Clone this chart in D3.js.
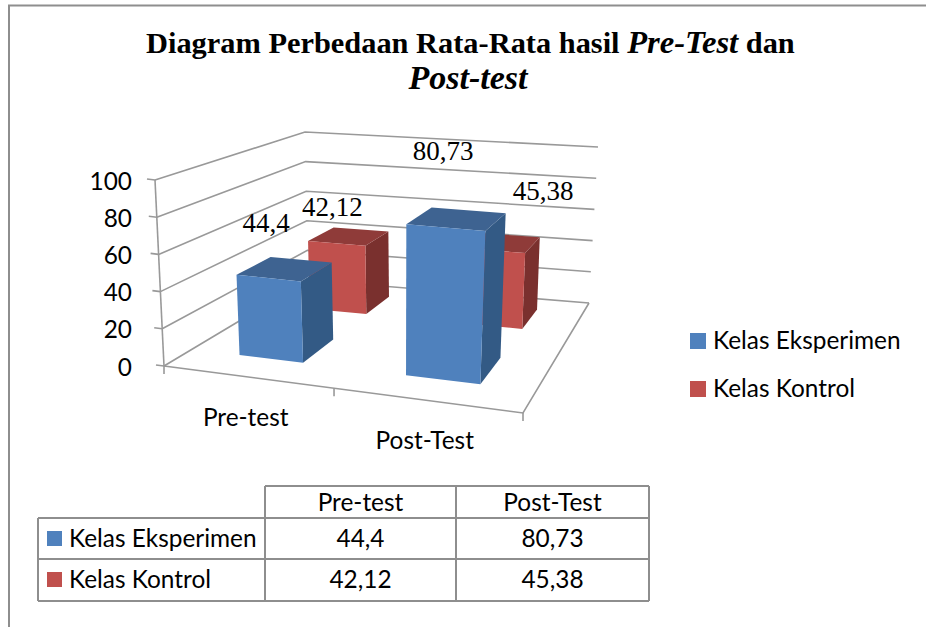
<!DOCTYPE html>
<html>
<head>
<meta charset="utf-8">
<script src="https://cdn.jsdelivr.net/npm/d3@7"></script>
<style>
    html, body { margin: 0; padding: 0; background: #fff; }
    svg { display: block; }
    text { fill: #000; }
</style>
</head>
<body>
<svg id="chart" width="926" height="627"></svg>
<script>
var categories = ["Pre-test", "Post-Test"];
var seriesNames = ["Kelas Eksperimen", "Kelas Kontrol"];
var eksperimenValues = [44.4, 80.73];
var kontrolValues = [42.12, 45.38];
var valueLabelsEksperimen = ["44,4", "80,73"];
var valueLabelsKontrol = ["42,12", "45,38"];
var yTicks = [0, 20, 40, 60, 80, 100];

var labelFont = "Lato, sans-serif";
var labelSize = "24.4px";
var serifFont = "'Liberation Serif', serif";

// colours: front, side, top of each box
var blue = { front: "#4F81BD", side: "#335A85", top: "#3E6391" };
var red = { front: "#C0504D", side: "#7A302E", top: "#8F3B39" };
var gridColor = "#999999";

// corners of the 3d box on screen: front-left, front-right, back-right, back-left
var floorCorners = [[164, 366], [523, 413], [589, 303], [308, 280]];
var topCorners = [[155, 180], [535, 213], [598, 147], [305, 132]];

// maps the unit square onto a quad, so depth gets foreshortened
function quadMap(q) {
    var dx1 = q[1][0] - q[2][0], dx2 = q[3][0] - q[2][0], sx = q[0][0] - q[1][0] + q[2][0] - q[3][0];
    var dy1 = q[1][1] - q[2][1], dy2 = q[3][1] - q[2][1], sy = q[0][1] - q[1][1] + q[2][1] - q[3][1];
    var den = dx1 * dy2 - dx2 * dy1;
    var g = (sx * dy2 - dx2 * sy) / den;
    var h = (dx1 * sy - sx * dy1) / den;
    var a = q[1][0] - q[0][0] + g * q[1][0], b = q[3][0] - q[0][0] + h * q[3][0];
    var d = q[1][1] - q[0][1] + g * q[1][1], e = q[3][1] - q[0][1] + h * q[3][1];
    return function (u, v) {
        var w = g * u + h * v + 1;
        return [(a * u + b * v + q[0][0]) / w, (d * u + e * v + q[0][1]) / w];
    };
}
var floorMap = quadMap(floorCorners);
var topMap = quadMap(topCorners);

var x = d3.scaleBand().domain(categories).range([0.008, 1.008]).paddingInner(0.6).paddingOuter(0.3);
var z = d3.scaleBand().domain(seriesNames).range([0.02, 1.01]).paddingInner(0.56).paddingOuter(0.27);
var y = d3.scaleLinear().domain([0, 100]).range([0, 1]);

// u across, v into the page, val is the chart value
function project(u, v, val) {
    var f = floorMap(u, v), t = topMap(u, v), k = y(val);
    return [f[0] + (t[0] - f[0]) * k, f[1] + (t[1] - f[1]) * k];
}

const svg = d3.select("#chart");
var line = d3.line();

// outer frame
svg.append("path").attr("d", "M9,627V5.5H926").attr("fill", "none").attr("stroke", "#8E8E8E").attr("stroke-width", 2);

// title
var title = svg.append("g").style("font-family", serifFont).style("font-size", "30.4px").style("font-weight", "bold");
var t1 = title.append("text").attr("x", 146).attr("y", 53);
t1.append("tspan").text("Diagram Perbedaan Rata-Rata hasil ");
t1.append("tspan").style("font-style", "italic").style("font-size", "32.6px").text("Pre-Test");
t1.append("tspan").text(" dan");
title.append("text").attr("x", 468).attr("y", 89).attr("text-anchor", "middle").style("font-style", "italic").style("font-size", "34px").text("Post-test");

// walls and floor
var grid = svg.append("g").attr("fill", "none").attr("stroke", gridColor).attr("stroke-width", 1.6);
yTicks.forEach(function (t) {
    grid.append("path").attr("d", line([project(0, 0, t), project(0, 1, t), project(1, 1, t)]));
    var p = project(0, 0, t);
    grid.append("path").attr("d", line([[p[0] - 8, p[1] - 1], p]));
});
grid.append("path").attr("d", line([project(0, 0, 0), project(0, 0, 100)]));
grid.append("path").attr("d", line([project(0, 0, 0), project(1, 0, 0), project(1, 1, 0)]));
// category ticks, the middle one sits a bit right of u = 0.5 in the original
[0, 0.515, 1].forEach(function (u) {
    var p = project(u, 0, 0);
    grid.append("path").attr("d", line([p, [p[0], p[1] + 8]]));
});

// y tick labels
svg.append("g").selectAll("text").data(yTicks).enter().append("text")
    .attr("x", 132)
    .attr("y", function (d) { return project(0, 0, d)[1] + 9.5; })
    .attr("text-anchor", "end")
    .style("font-family", labelFont).style("font-size", labelSize)
    .text(function (d) { return d; });

// category labels
svg.append("g").selectAll("text").data(categories).enter().append("text")
    .attr("x", function (d) { return project(x(d) + x.bandwidth() / 2, 0, 0)[0]; })
    .attr("y", function (d) { return project(x(d) + x.bandwidth() / 2, 0, 0)[1] + 49; })
    .attr("text-anchor", "middle")
    .style("font-family", labelFont).style("font-size", labelSize)
    .text(function (d) { return d; });

// one box of the 3d bar chart
function drawBox(cat, name, val, col) {
    var u0 = x(cat), u1 = u0 + x.bandwidth();
    var v0 = z(name), v1 = v0 + z.bandwidth();
    var g = svg.append("g");
    function face(pts, fill) {
        g.append("path").attr("d", line(pts) + "Z").attr("fill", fill);
    }
    face([project(u1, v0, 0), project(u1, v1, 0), project(u1, v1, val), project(u1, v0, val)], col.side);
    face([project(u0, v0, val), project(u1, v0, val), project(u1, v1, val), project(u0, v1, val)], col.top);
    face([project(u0, v0, 0), project(u1, v0, 0), project(u1, v0, val), project(u0, v0, val)], col.front);
}

// back row first so the front row covers it
kontrolValues.forEach(function (d, i) { drawBox(categories[i], seriesNames[1], d, red); });
eksperimenValues.forEach(function (d, i) { drawBox(categories[i], seriesNames[0], d, blue); });

// value labels, placed by hand over the bars like the original
function valueLabel(cat, name, val, txt, dx, dy) {
    var p = project(x(cat) + x.bandwidth() / 2, z(name), val);
    svg.append("text")
        .attr("x", p[0] + dx).attr("y", p[1] + dy)
        .attr("text-anchor", "middle")
        .style("font-family", serifFont).style("font-size", "27px")
        .text(txt);
}
var eksOffsets = [[-2, -46], [-2, -68]];
var konOffsets = [[-4, -27], [52, -50]];
eksperimenValues.forEach(function (d, i) { valueLabel(categories[i], seriesNames[0], d, valueLabelsEksperimen[i], eksOffsets[i][0], eksOffsets[i][1]); });
kontrolValues.forEach(function (d, i) { valueLabel(categories[i], seriesNames[1], d, valueLabelsKontrol[i], konOffsets[i][0], konOffsets[i][1]); });

// legend
var legendY = d3.scalePoint().domain(seriesNames).range([349, 397]);
var legendColors = [blue.front, red.front];
var legend = svg.append("g").selectAll("g").data(seriesNames).enter().append("g");
legend.append("rect")
    .attr("x", 690).attr("y", function (d) { return legendY(d) - 16; })
    .attr("width", 16).attr("height", 16)
    .attr("fill", function (d, i) { return legendColors[i]; });
legend.append("text")
    .attr("x", 713).attr("y", function (d) { return legendY(d); })
    .style("font-family", labelFont).style("font-size", labelSize)
    .text(function (d) { return d; });

// data table
var colX = [38, 265, 456, 649];
var rowY = [486, 518, 559, 601];
var tableG = svg.append("g");
var tableLines = tableG.append("g").attr("stroke", "#8E8E8E").attr("stroke-width", 2).attr("fill", "none");
tableLines.append("path").attr("d", "M" + colX[1] + "," + rowY[0] + "H" + colX[3]);
[1, 2, 3].forEach(function (r) {
    tableLines.append("path").attr("d", "M" + colX[0] + "," + rowY[r] + "H" + colX[3]);
});
tableLines.append("path").attr("d", "M" + colX[0] + "," + rowY[1] + "V" + rowY[3]);
[1, 2, 3].forEach(function (c) {
    tableLines.append("path").attr("d", "M" + colX[c] + "," + rowY[0] + "V" + rowY[3]);
});

function cell(tx, ty, txt, anchor) {
    tableG.append("text").attr("x", tx).attr("y", ty).attr("text-anchor", anchor)
        .style("font-family", labelFont).style("font-size", labelSize).text(txt);
}
categories.forEach(function (c, i) {
    cell((colX[i + 1] + colX[i + 2]) / 2, rowY[0] + 25, c, "middle");
    cell((colX[i + 1] + colX[i + 2]) / 2, rowY[1] + 29, valueLabelsEksperimen[i], "middle");
    cell((colX[i + 1] + colX[i + 2]) / 2, rowY[2] + 29, valueLabelsKontrol[i], "middle");
});
seriesNames.forEach(function (s, i) {
    tableG.append("rect").attr("x", 47).attr("y", rowY[i + 1] + 13).attr("width", 15).attr("height", 15).attr("fill", legendColors[i]);
    cell(69, rowY[i + 1] + 29, s, "start");
});
</script>
</body>
</html>
